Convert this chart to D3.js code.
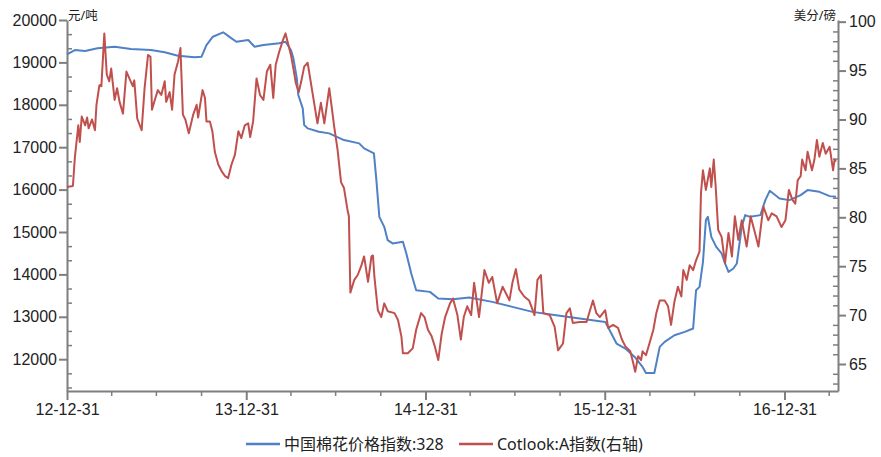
<!DOCTYPE html>
<meta charset="utf-8">
<style>
  body { margin: 0; background: #fff; font-family: "Noto Sans", "Noto Sans CJK SC", sans-serif; }
  .axis path, .axis line { stroke: #7f7f7f; }
  .axis text { fill: #222; font-size: 16px; }
  .unit { fill: #222; font-size: 12.5px; }
  .legend text { fill: #222; font-size: 16px; }
</style>
<body>
<svg id="chart" width="881" height="457"></svg>
<script src="https://d3js.org/d3.v7.min.js"></script>
<script>
// 中国棉花价格指数:328 (左轴, 元/吨)
var chinaIndex = [
  ["2012-12-31",19190],["2013-01-16",19292],["2013-02-06",19268],["2013-03-03",19332],
  ["2013-04-07",19370],["2013-05-10",19316],["2013-06-20",19292],["2013-07-18",19238],
  ["2013-08-14",19157],["2013-09-17",19120],["2013-10-01",19134],["2013-10-11",19410],
  ["2013-10-24",19606],["2013-11-14",19710],["2013-12-01",19568],["2013-12-11",19488],
  ["2014-01-04",19528],["2014-01-17",19370],["2014-02-04",19410],["2014-03-08",19450],
  ["2014-03-21",19488],["2014-04-01",19292],["2014-04-06",19096],["2014-04-13",18624],
  ["2014-04-16",18230],["2014-04-25",17916],["2014-04-28",17522],["2014-05-05",17444],
  ["2014-05-28",17364],["2014-06-18",17326],["2014-07-18",17168],["2014-08-18",17090],
  ["2014-08-28",16972],["2014-09-17",16854],["2014-09-22",16224],["2014-09-28",15358],
  ["2014-10-08",15122],["2014-10-15",14808],["2014-10-25",14730],["2014-11-15",14768],
  ["2014-11-22",14494],["2014-12-02",14022],["2014-12-12",13628],["2015-01-09",13588],
  ["2015-01-26",13432],["2015-02-25",13416],["2015-03-30",13456],["2015-05-16",13352],
  ["2015-06-26",13234],["2015-08-06",13116],["2015-09-23",13038],["2015-11-10",12960],
  ["2015-12-17",12903],["2016-01-01",12880],["2016-01-10",12684],["2016-01-24",12370],
  ["2016-02-11",12252],["2016-03-01",12054],["2016-03-17",11818],["2016-03-24",11676],
  ["2016-04-10",11676],["2016-04-21",12290],["2016-05-01",12408],["2016-05-21",12566],
  ["2016-06-11",12644],["2016-06-28",12724],["2016-07-04",13628],["2016-07-11",13706],
  ["2016-07-18",14289],["2016-07-24",15280],["2016-07-28",15358],["2016-08-04",14886],
  ["2016-08-14",14650],["2016-08-25",14494],["2016-09-01",14258],["2016-09-08",14060],
  ["2016-09-18",14140],["2016-09-25",14258],["2016-10-05",15122],["2016-10-12",15398],
  ["2016-10-22",15358],["2016-11-12",15398],["2016-11-22",15752],["2016-12-01",15971],
  ["2016-12-21",15792],["2017-01-10",15752],["2017-02-02",15870],["2017-02-16",15988],
  ["2017-03-12",15948],["2017-04-02",15846],["2017-04-15",15830]
];

// Cotlook:A指数 (右轴, 美分/磅)
var cotlookA = [
  ["2012-12-31",83.1],["2013-01-12",83.2],["2013-01-16",86.1],["2013-01-23",89.4],
  ["2013-01-26",87.7],["2013-01-30",90.3],["2013-02-06",89.4],["2013-02-10",90.2],
  ["2013-02-13",89.1],["2013-02-20",90.0],["2013-02-26",88.9],["2013-03-01",91.5],
  ["2013-03-07",93.5],["2013-03-11",93.4],["2013-03-17",98.8],["2013-03-22",94.6],
  ["2013-03-27",93.9],["2013-03-31",95.2],["2013-04-07",92.0],["2013-04-12",93.2],
  ["2013-04-17",91.8],["2013-04-24",90.6],["2013-05-01",94.9],["2013-05-07",94.2],
  ["2013-05-14",93.4],["2013-05-17",94.0],["2013-05-23",90.1],["2013-06-01",88.9],
  ["2013-06-07",93.2],["2013-06-14",96.6],["2013-06-19",96.4],["2013-06-22",91.0],
  ["2013-06-29",92.2],["2013-07-04",93.0],["2013-07-11",92.5],["2013-07-18",93.9],
  ["2013-07-21",91.8],["2013-07-28",92.8],["2013-08-02",91.0],["2013-08-07",94.6],
  ["2013-08-14",95.9],["2013-08-19",97.3],["2013-08-24",90.5],["2013-08-29",90.0],
  ["2013-09-05",88.6],["2013-09-14",90.5],["2013-09-21",91.5],["2013-09-24",90.2],
  ["2013-10-03",93.0],["2013-10-08",92.2],["2013-10-11",89.8],["2013-10-18",89.8],
  ["2013-10-23",88.8],["2013-10-28",86.7],["2013-11-04",85.4],["2013-11-11",84.7],
  ["2013-11-18",84.2],["2013-11-24",84.0],["2013-12-01",85.4],["2013-12-08",86.4],
  ["2013-12-15",88.8],["2013-12-21",88.1],["2013-12-28",89.4],["2014-01-04",89.6],
  ["2014-01-08",88.2],["2014-01-14",89.8],["2014-01-21",94.2],["2014-01-28",92.5],
  ["2014-02-04",92.0],["2014-02-11",94.9],["2014-02-18",95.6],["2014-02-24",92.2],
  ["2014-03-01",95.6],["2014-03-08",96.9],["2014-03-15",98.0],["2014-03-21",98.8],
  ["2014-03-27",97.6],["2014-04-01",96.6],["2014-04-06",95.2],["2014-04-11",93.7],
  ["2014-04-17",92.8],["2014-04-22",93.9],["2014-04-28",95.4],["2014-05-05",95.8],
  ["2014-05-15",92.7],["2014-05-25",89.6],["2014-06-01",91.7],["2014-06-08",89.6],
  ["2014-06-18",93.2],["2014-06-23",91.3],["2014-06-28",89.3],["2014-07-05",86.9],
  ["2014-07-12",83.6],["2014-07-18",83.0],["2014-07-25",80.8],["2014-07-28",80.1],
  ["2014-07-31",72.3],["2014-08-08",73.6],["2014-08-15",74.1],["2014-08-22",75.0],
  ["2014-08-28",76.0],["2014-09-05",73.4],["2014-09-12",76.0],["2014-09-15",76.1],
  ["2014-09-18",73.9],["2014-09-25",70.5],["2014-10-02",69.8],["2014-10-08",71.2],
  ["2014-10-15",70.4],["2014-10-29",70.2],["2014-11-05",69.5],["2014-11-12",67.8],
  ["2014-11-15",66.1],["2014-11-25",66.1],["2014-12-05",66.6],["2014-12-12",68.5],
  ["2014-12-22",70.2],["2014-12-29",69.8],["2015-01-05",68.5],["2015-01-12",67.9],
  ["2015-01-19",66.8],["2015-01-26",65.4],["2015-02-02",68.1],["2015-02-09",69.8],
  ["2015-02-19",71.2],["2015-02-25",71.7],["2015-03-06",70.0],["2015-03-13",67.5],
  ["2015-03-19",69.8],["2015-03-26",70.9],["2015-04-03",70.0],["2015-04-09",73.3],
  ["2015-04-19",69.8],["2015-04-30",74.6],["2015-05-09",73.3],["2015-05-16",73.9],
  ["2015-05-26",71.2],["2015-06-06",72.9],["2015-06-20",71.5],["2015-06-26",73.3],
  ["2015-07-03",74.7],["2015-07-10",72.6],["2015-07-20",71.9],["2015-07-30",71.5],
  ["2015-08-10",70.0],["2015-08-16",73.6],["2015-08-23",74.1],["2015-08-28",70.2],
  ["2015-09-10",70.0],["2015-09-20",68.8],["2015-09-27",66.4],["2015-10-07",67.1],
  ["2015-10-14",70.2],["2015-10-21",70.7],["2015-10-27",69.2],["2015-11-10",69.3],
  ["2015-11-24",69.3],["2015-11-27",69.8],["2015-12-07",71.5],["2015-12-14",70.2],
  ["2015-12-21",69.8],["2016-01-01",70.5],["2016-01-07",68.7],["2016-01-17",69.0],
  ["2016-01-27",68.7],["2016-02-04",67.5],["2016-02-11",66.8],["2016-02-21",66.3],
  ["2016-02-27",65.1],["2016-03-02",64.2],["2016-03-08",65.8],["2016-03-14",65.4],
  ["2016-03-17",66.3],["2016-03-24",65.9],["2016-03-31",67.1],["2016-04-08",68.5],
  ["2016-04-14",70.2],["2016-04-21",71.5],["2016-05-01",71.5],["2016-05-08",70.9],
  ["2016-05-14",69.0],["2016-05-21",71.4],["2016-05-28",72.9],["2016-06-04",71.9],
  ["2016-06-08",74.6],["2016-06-15",73.6],["2016-06-21",75.1],["2016-06-28",74.6],
  ["2016-07-04",75.6],["2016-07-11",76.5],["2016-07-14",82.5],["2016-07-18",84.8],
  ["2016-07-24",82.8],["2016-08-01",85.0],["2016-08-04",83.1],["2016-08-09",85.9],
  ["2016-08-13",83.1],["2016-08-18",78.7],["2016-08-25",78.0],["2016-09-01",75.3],
  ["2016-09-08",78.4],["2016-09-15",76.0],["2016-09-21",80.1],["2016-09-28",77.7],
  ["2016-10-05",79.7],["2016-10-15",77.0],["2016-10-23",80.1],["2016-11-01",78.4],
  ["2016-11-08",77.0],["2016-11-18",81.1],["2016-11-28",79.7],["2016-12-05",80.4],
  ["2016-12-15",80.1],["2016-12-25",79.0],["2017-01-02",79.7],["2017-01-09",82.8],
  ["2017-01-16",81.8],["2017-01-22",81.4],["2017-01-27",83.8],["2017-02-02",84.2],
  ["2017-02-05",85.9],["2017-02-12",84.8],["2017-02-16",86.7],["2017-02-25",84.8],
  ["2017-03-02",85.9],["2017-03-07",87.9],["2017-03-12",86.2],["2017-03-19",87.6],
  ["2017-03-25",86.5],["2017-04-02",87.2],["2017-04-09",84.8],["2017-04-12",85.9],
  ["2017-04-15",85.7]
];

var leftTicks = [12000, 13000, 14000, 15000, 16000, 17000, 18000, 19000, 20000];
var rightTicks = [65, 70, 75, 80, 85, 90, 95, 100];
var yearTicks = ["2012-12-31", "2013-12-31", "2014-12-31", "2015-12-31", "2016-12-31"];
var quarterTicks = ["2013-03-31","2013-06-30","2013-09-30","2014-03-31","2014-06-30","2014-09-30",
  "2015-03-31","2015-06-30","2015-09-30","2016-03-31","2016-06-30","2016-09-30","2017-03-31"];
var seriesNames = ["中国棉花价格指数:328", "Cotlook:A指数(右轴)"];
var seriesColors = ["#4f81c6", "#c0504d"];

var parse = d3.timeParse("%Y-%m-%d");
var svg = d3.select("#chart");
var plot = {left: 67, right: 838, top: 20, bottom: 391};

var x = d3.scaleTime()
  .domain([parse("2012-12-31"), parse("2017-04-19")])
  .range([plot.left, plot.right]);
var yL = d3.scaleLinear().domain([11250, 20000]).range([plot.bottom, plot.top]);
var yR = d3.scaleLinear().domain([62.24, 100.17]).range([plot.bottom, plot.top]);

// minor ticks
var leftMinor = d3.range(11250, 20000, 1000 / 3).map(function(d) { return Math.round(d / 1000 * 3) * 1000 / 3; })
  .filter(function(d) { return d > 11250 && d < 20000 && d % 1000 !== 0; });
var rightMinor = d3.range(63, 100).filter(function(d) { return d % 5 !== 0; });

svg.append("g").attr("class", "axis")
  .attr("transform", "translate(" + plot.left + ",0)")
  .call(d3.axisRight(yL).tickValues(leftMinor).tickSize(5).tickFormat(""))
  .call(function(g) { g.select(".domain").remove(); g.selectAll("line").attr("stroke-width", 1.5); });
svg.append("g").attr("class", "axis")
  .attr("transform", "translate(" + plot.left + ",0)")
  .call(d3.axisLeft(yL).tickValues(leftTicks).tickSize(8).tickSizeOuter(0).tickPadding(2).tickFormat(d3.format("d")))
  .call(function(g) { g.selectAll("path,line").attr("stroke-width", 2); });

svg.append("g").attr("class", "axis")
  .attr("transform", "translate(" + plot.right + ",0)")
  .call(d3.axisLeft(yR).tickValues(rightMinor).tickSize(5).tickFormat(""))
  .call(function(g) { g.select(".domain").remove(); g.selectAll("line").attr("stroke-width", 1.5); });
svg.append("g").attr("class", "axis")
  .attr("transform", "translate(" + plot.right + ",0)")
  .call(d3.axisRight(yR).tickValues(rightTicks).tickSize(8).tickSizeOuter(0).tickPadding(3).tickFormat(d3.format("d")))
  .call(function(g) { g.selectAll("path,line").attr("stroke-width", 2); });

svg.append("g").attr("class", "axis")
  .attr("transform", "translate(0," + plot.bottom + ")")
  .call(d3.axisBottom(x).tickValues(quarterTicks.map(parse)).tickSize(5).tickFormat(""))
  .call(function(g) { g.select(".domain").remove(); g.selectAll("line").attr("stroke-width", 1.5); });
svg.append("g").attr("class", "axis")
  .attr("transform", "translate(0," + plot.bottom + ")")
  .call(d3.axisBottom(x).tickValues(yearTicks.map(parse)).tickSize(9).tickSizeOuter(0).tickPadding(4).tickFormat(d3.timeFormat("%y-%m-%d")))
  .call(function(g) { g.selectAll("path,line").attr("stroke-width", 2); });

svg.append("text").attr("class", "unit").attr("x", plot.left + 1).attr("y", 20).text("元/吨");
svg.append("text").attr("class", "unit").attr("x", plot.right - 2).attr("y", 20)
  .attr("text-anchor", "end").text("美分/磅");

var lineL = d3.line().x(function(d) { return x(parse(d[0])); }).y(function(d) { return yL(d[1]); });
var lineR = d3.line().x(function(d) { return x(parse(d[0])); }).y(function(d) { return yR(d[1]); });

svg.append("path").datum(chinaIndex)
  .attr("d", lineL).attr("fill", "none")
  .attr("stroke", seriesColors[0]).attr("stroke-width", 2).attr("stroke-linejoin", "round");
svg.append("path").datum(cotlookA)
  .attr("d", lineR).attr("fill", "none")
  .attr("stroke", seriesColors[1]).attr("stroke-width", 2).attr("stroke-linejoin", "round");

// legend
var legend = svg.append("g").attr("class", "legend");
var legendX = [246, 459];
seriesNames.forEach(function(name, i) {
  legend.append("line")
    .attr("x1", legendX[i]).attr("x2", legendX[i] + 34)
    .attr("y1", 444).attr("y2", 444)
    .attr("stroke", seriesColors[i]).attr("stroke-width", 2.5);
  legend.append("text")
    .attr("x", legendX[i] + 38).attr("y", 450)
    .text(name);
});
</script>
</body>
